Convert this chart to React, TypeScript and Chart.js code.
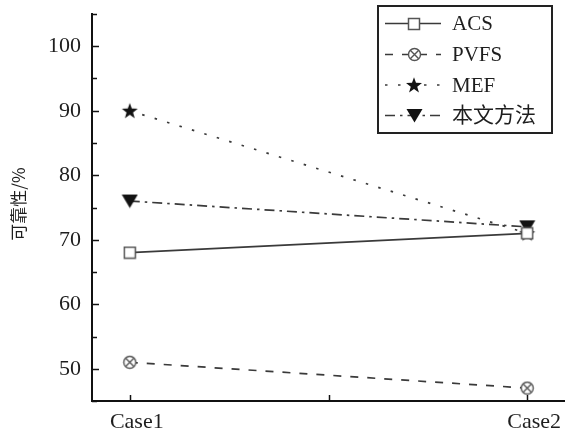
import React, { useEffect, useRef } from "react";
import { Chart, registerables } from "chart.js";

Chart.register(...registerables);

const categories = ["Case1", "Case2"];
const seriesNames = ["ACS", "PVFS", "MEF", "本文方法"];
const acsValues = [68, 71];
const pvfsValues = [51, 47];
const mefValues = [90, 71];
const oursValues = [76, 72];
const yTickValues = [45, 50, 55, 60, 65, 70, 75, 80, 85, 90, 95, 100, 105];
const yLabelValues = [50, 60, 70, 80, 90, 100];
const yTitle = "可靠性/%";

const SERIF = '"Liberation Serif", "Noto Sans CJK SC", serif';
const LINE = "#3a3a3a";
const DARK = "#121212";

function mk(w: number, h: number, draw: (c: CanvasRenderingContext2D) => void) {
  const cv = document.createElement("canvas");
  cv.width = w;
  cv.height = h;
  const c = cv.getContext("2d")!;
  draw(c);
  return cv;
}

function makeSquare() {
  return mk(14, 14, (c) => {
    c.fillStyle = "#fff";
    c.strokeStyle = "#555";
    c.lineWidth = 1.5;
    c.fillRect(1.5, 1.5, 11, 11);
    c.strokeRect(1.5, 1.5, 11, 11);
  });
}
function makeCrossCircle() {
  return mk(15, 15, (c) => {
    c.fillStyle = "#fff";
    c.strokeStyle = "#555";
    c.lineWidth = 1.4;
    c.beginPath();
    c.arc(7.5, 7.5, 6, 0, Math.PI * 2);
    c.fill();
    c.stroke();
    const d = 6 * Math.SQRT1_2;
    c.beginPath();
    c.moveTo(7.5 - d, 7.5 - d);
    c.lineTo(7.5 + d, 7.5 + d);
    c.moveTo(7.5 + d, 7.5 - d);
    c.lineTo(7.5 - d, 7.5 + d);
    c.stroke();
  });
}
function makeStar() {
  return mk(18, 18, (c) => {
    c.fillStyle = DARK;
    c.beginPath();
    const cx = 9, cy = 9.6, R = 8.4, r = 3.4;
    for (let i = 0; i < 10; i++) {
      const a = -Math.PI / 2 + (i * Math.PI) / 5;
      const rr = i % 2 === 0 ? R : r;
      const x = cx + rr * Math.cos(a);
      const y = cy + rr * Math.sin(a);
      if (i === 0) c.moveTo(x, y);
      else c.lineTo(x, y);
    }
    c.closePath();
    c.fill();
  });
}
function makeTriangle() {
  return mk(17, 15, (c) => {
    c.fillStyle = DARK;
    c.beginPath();
    c.moveTo(0.5, 1);
    c.lineTo(16.5, 1);
    c.lineTo(8.5, 14.5);
    c.closePath();
    c.fill();
  });
}

export default function App() {
  const ref = useRef<HTMLCanvasElement>(null);
  useEffect(() => {
    document.body.style.margin = "0";
    const markers = [makeSquare(), makeCrossCircle(), makeStar(), makeTriangle()];
    const dashes = [[], [8, 9], [2.5, 10.5], [10, 5, 2.5, 5]];
    const values = [acsValues, pvfsValues, mefValues, oursValues];

    const datasets = seriesNames.map((name, i) => ({
      label: name,
      data: values[i].map((v, j) => ({ x: j, y: v })),
      borderColor: LINE,
      borderWidth: 1.7,
      borderDash: dashes[i],
      pointStyle: markers[i] as any,
      pointRadius: 6,
      fill: false,
      tension: 0,
      clip: false as any,
    }));

    const overlay = {
      id: "overlay",
      afterDraw(chart: any) {
        const ctx: CanvasRenderingContext2D = chart.ctx;
        const xs = chart.scales.x;
        const ys = chart.scales.y;
        const area = chart.chartArea;
        ctx.save();
        ctx.strokeStyle = "#111";
        ctx.lineWidth = 1.5;
        yTickValues.forEach((v) => {
          const py = Math.round(ys.getPixelForValue(v)) + 0.5;
          const len = v % 10 === 0 ? 7 : 5;
          ctx.beginPath();
          ctx.moveTo(area.left, py);
          ctx.lineTo(area.left + len, py);
          ctx.stroke();
        });
        [0, 0.5, 1].forEach((v) => {
          const px = Math.round(xs.getPixelForValue(v)) + 0.5;
          ctx.beginPath();
          ctx.moveTo(px, area.bottom);
          ctx.lineTo(px, area.bottom - 6);
          ctx.stroke();
        });
        ctx.fillStyle = "#1e1e1e";
        ctx.font = '17px "Noto Sans CJK SC", sans-serif';
        ctx.textAlign = "center";
        ctx.textBaseline = "middle";
        ctx.translate(19, 204);
        ctx.rotate(-Math.PI / 2);
        ctx.fillText(yTitle, 0, 0);
        ctx.restore();

        ctx.save();
        const bx = 378, by = 6, bw = 174, bh = 127;
        ctx.fillStyle = "#fff";
        ctx.fillRect(bx, by, bw, bh);
        ctx.strokeStyle = "#222";
        ctx.lineWidth = 2;
        ctx.strokeRect(bx, by, bw, bh);
        const rows = [23.5, 54.5, 85, 115.5];
        seriesNames.forEach((name, i) => {
          const y = rows[i];
          ctx.strokeStyle = LINE;
          ctx.lineWidth = 1.7;
          ctx.setLineDash(dashes[i]);
          ctx.beginPath();
          ctx.moveTo(385, y);
          ctx.lineTo(441, y);
          ctx.stroke();
          ctx.setLineDash([]);
          const m = markers[i];
          ctx.drawImage(m, Math.round(414 - m.width / 2), Math.round(y - m.height / 2));
          ctx.fillStyle = "#1e1e1e";
          ctx.font = "21px " + SERIF;
          ctx.textAlign = "left";
          ctx.textBaseline = "middle";
          ctx.fillText(name, 452, y + 1);
        });
        ctx.restore();
      },
    };

    const chart = new Chart(ref.current!, {
      type: "line",
      data: { datasets: datasets as any },
      options: {
        animation: false,
        responsive: false,
        maintainAspectRatio: false,
        layout: { autoPadding: false, padding: { top: 14, right: 0, left: 0, bottom: 0 } },
        plugins: { legend: { display: false }, tooltip: { enabled: false } },
        scales: {
          x: {
            type: "linear",
            min: -0.095,
            max: 1.095,
            afterBuildTicks: (s: any) => {
              s.ticks = [{ value: 0 }, { value: 1 }];
            },
            afterFit: (s: any) => {
              s.height = 32;
              s.paddingLeft = 0;
              s.paddingRight = 0;
            },
            grid: { display: false, drawTicks: false },
            border: { display: true, color: "#111", width: 2 },
            ticks: {
              autoSkip: false,
              maxRotation: 0,
              padding: 8,
              labelOffset: 7,
              color: "#1e1e1e",
              font: { family: SERIF, size: 22 },
              callback: (v: any) => categories[Math.round(Number(v))] ?? "",
            },
          },
          y: {
            type: "linear",
            min: 45,
            max: 105,
            afterBuildTicks: (s: any) => {
              s.ticks = yLabelValues.map((v) => ({ value: v }));
            },
            afterFit: (s: any) => {
              s.width = 92;
              s.paddingTop = 0;
              s.paddingBottom = 0;
            },
            grid: { display: false, drawTicks: false },
            border: { display: true, color: "#111", width: 2 },
            ticks: {
              padding: 11,
              color: "#1e1e1e",
              font: { family: SERIF, size: 22 },
              callback: (v: any) => String(v),
            },
          },
        },
      },
      plugins: [overlay],
    });
    return () => chart.destroy();
  }, []);
  return <canvas ref={ref} width={565} height={433} style={{ display: "block" }} />;
}
